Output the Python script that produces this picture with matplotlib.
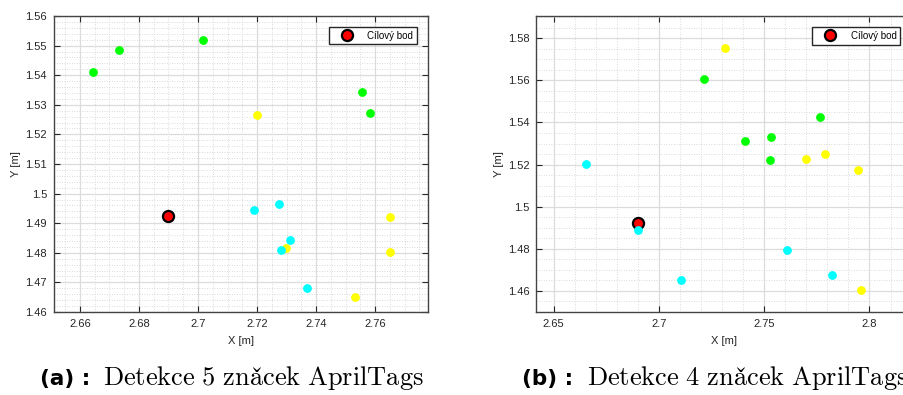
import matplotlib
matplotlib.use("Agg")
import matplotlib.pyplot as plt
from matplotlib.ticker import MultipleLocator, FuncFormatter

plt.rcParams['font.family'] = ['Liberation Sans', 'DejaVu Sans']
plt.rcParams['mathtext.fontset'] = 'cm'

#Target point
target_x = 2.6899
target_y = 1.4923

#Panel (a) - 5 tags
a_green_x = [2.6644, 2.6731, 2.7017, 2.7556, 2.7581]
a_green_y = [1.5411, 1.5485, 1.5519, 1.5343, 1.5272]
a_yellow_x = [2.7201, 2.7298, 2.7650, 2.7650, 2.7533]
a_yellow_y = [1.5267, 1.4817, 1.4921, 1.4804, 1.4650]
a_cyan_x = [2.7191, 2.7276, 2.7312, 2.7280, 2.7370]
a_cyan_y = [1.4945, 1.4965, 1.4843, 1.4809, 1.4682]

#Panel (b) - 4 tags
b_green_x = [2.7215, 2.7766, 2.7407, 2.7533, 2.7529]
b_green_y = [1.5608, 1.5424, 1.5312, 1.5331, 1.5222]
b_yellow_x = [2.7312, 2.7699, 2.7788, 2.7945, 2.7961]
b_yellow_y = [1.5754, 1.5225, 1.5252, 1.5174, 1.4601]
b_cyan_x = [2.6653, 2.6899, 2.7104, 2.7608, 2.7820]
b_cyan_y = [1.5203, 1.4889, 1.4649, 1.4792, 1.4676]

captions = ["Detekce 5 značek AprilTags", "Detekce 4 značek AprilTags"]
labels = ["(a) :", "(b) :"]

GREEN = '#00ff00'
YELLOW = '#ffff00'
CYAN = '#00ffff'
DARK = '#262626'


def fmt(v, p):
    return f"{round(v, 4):g}"


def style_axes(ax, xlim, ylim, xmaj, xmin, ymaj, ymin):
    ax.set_xlim(*xlim)
    ax.set_ylim(*ylim)
    ax.xaxis.set_major_locator(MultipleLocator(xmaj))
    ax.xaxis.set_minor_locator(MultipleLocator(xmin))
    ax.yaxis.set_major_locator(MultipleLocator(ymaj))
    ax.yaxis.set_minor_locator(MultipleLocator(ymin))
    ax.xaxis.set_major_formatter(FuncFormatter(fmt))
    ax.yaxis.set_major_formatter(FuncFormatter(fmt))
    ax.grid(which='major', color='#dcdcdc', linewidth=0.9, linestyle='-')
    ax.grid(which='minor', color='#cfcfcf', linewidth=0.6, linestyle=(0, (1, 2)))
    ax.set_axisbelow(True)
    ax.tick_params(which='major', direction='in', top=True, right=True,
                   length=4, width=0.8, color=DARK, labelcolor=DARK, labelsize=8, pad=5)
    ax.tick_params(which='minor', length=0)
    for s in ax.spines.values():
        s.set_color('#444444')
        s.set_linewidth(1.0)
    ax.set_xlabel("X [m]", fontsize=8, color=DARK, labelpad=5)
    ax.set_ylabel("Y [m]", fontsize=8, color=DARK, labelpad=3)
    ax.legend(loc='upper right', fancybox=False, edgecolor=DARK, framealpha=1,
              fontsize=7, borderaxespad=1.1, handlelength=3.0, handletextpad=0.6,
              borderpad=0.4, labelspacing=0.2)


fig = plt.figure(figsize=(9.04, 3.95), dpi=100)

ax1 = fig.add_axes([0.0597, 0.2101, 0.4137, 0.7494])
ax1.plot(target_x, target_y, 'o', color='red', markeredgecolor='black',
         markeredgewidth=1.6, markersize=8, label='Cílový bod', zorder=3)
ax1.scatter(a_green_x, a_green_y, s=28, color=GREEN, zorder=4)
ax1.scatter(a_yellow_x, a_yellow_y, s=28, color=YELLOW, zorder=4)
ax1.scatter(a_cyan_x, a_cyan_y, s=28, color=CYAN, zorder=5)
style_axes(ax1, (2.6512, 2.7779), (1.46, 1.56), 0.02, 0.005, 0.01, 0.002)

ax2 = fig.add_axes([0.5932, 0.2109, 0.4145, 0.7483])
ax2.plot(target_x, target_y, 'o', color='red', markeredgecolor='black',
         markeredgewidth=1.6, markersize=8, label='Cílový bod', zorder=3)
ax2.scatter(b_green_x, b_green_y, s=28, color=GREEN, zorder=4)
ax2.scatter(b_yellow_x, b_yellow_y, s=28, color=YELLOW, zorder=4)
ax2.scatter(b_cyan_x, b_cyan_y, s=28, color=CYAN, zorder=5)
style_axes(ax2, (2.6417, 2.8197), (1.45, 1.5906), 0.05, 0.01, 0.02, 0.005)

#Captions
def mtext(s):
    s = s.replace("č", r"\check{c}").replace(" ", r"\ ")
    return r"$\mathrm{" + s + "}$"

fig.text(0.0442, 0.025, labels[0], fontsize=15.5, fontweight='bold',
         family='DejaVu Sans', va='baseline', color='black')
fig.text(0.1139, 0.025, mtext(captions[0]), fontsize=19, va='baseline', color='black')
fig.text(0.5774, 0.025, labels[1], fontsize=15.5, fontweight='bold',
         family='DejaVu Sans', va='baseline', color='black')
fig.text(0.6493, 0.025, mtext(captions[1]), fontsize=19, va='baseline', color='black')

fig.savefig("out.png", dpi=100)
plt.close(fig)
